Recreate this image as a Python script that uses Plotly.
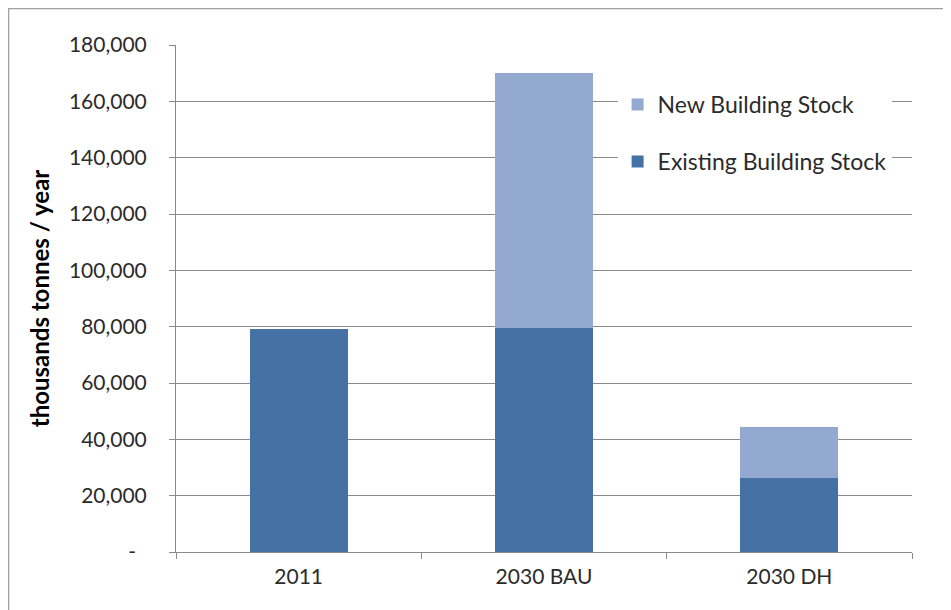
import plotly.graph_objects as go

categories = ["2011", "2030 BAU", "2030 DH"]
existing_stock = [79300, 79500, 26400]
new_stock = [0, 90400, 18000]
y_tick_values = [0, 20000, 40000, 60000, 80000, 100000, 120000, 140000, 160000, 180000]
y_tick_labels = ["-\u00a0\u00a0", "20,000", "40,000", "60,000", "80,000", "100,000", "120,000", "140,000", "160,000", "180,000"]

FONT = "Lato, 'Open Sans', sans-serif"
TEXT = "#2b2b2b"
GRID = "#8a8a8a"

# figure sits at (8, 8) in the page because of the default body margin
L, R, T, B = 168, 39, 37, 58
W, H = 943, 602
PW = W - L - R
PH = H - T - B

fig = go.Figure()
fig.add_trace(go.Bar(x=categories, y=existing_stock, name="Existing Building Stock",
                     marker=dict(color="#4571a5", line=dict(width=0)), width=0.4,
                     legendgroup="a", legendrank=2))
fig.add_trace(go.Bar(x=categories, y=new_stock, name="New Building Stock",
                     marker=dict(color="#94a9cf", line=dict(width=0)), width=0.4,
                     legendgroup="b", legendrank=1))

fig.update_layout(
    width=W, height=H,
    barmode="stack",
    paper_bgcolor="white", plot_bgcolor="white",
    margin=dict(l=L, r=R, t=T, b=B, pad=0),
    font=dict(family=FONT, size=20, color=TEXT),
    showlegend=True,
    legend=dict(x=0.6, xanchor="left", y=0.925, yanchor="top",
                bgcolor="white", borderwidth=0,
                traceorder="grouped", tracegroupgap=24,
                font=dict(family=FONT, size=23, color=TEXT)),
    xaxis=dict(type="category", tickson="boundaries", ticks="outside", ticklen=6,
               tickcolor=GRID, showline=True, linecolor=GRID, linewidth=1,
               showgrid=False, ticklabelstandoff=6,
               tickfont=dict(size=21, color=TEXT)),
    yaxis=dict(range=[0, 180000], tickvals=y_tick_values, ticktext=y_tick_labels,
               ticks="outside", ticklen=6, tickcolor=GRID, showline=True,
               linecolor=GRID, linewidth=1, showgrid=True, gridcolor=GRID,
               gridwidth=1, zeroline=False, ticklabelstandoff=18,
               tickfont=dict(size=21, color=TEXT),
               title=dict(text="<b>thousands tonnes / year</b>", standoff=12,
                          font=dict(size=24, color="#000000"))),
    shapes=[dict(type="rect", xref="paper", yref="paper",
                 x0=(0.5 - L) / PW, x1=(941 - L) / PW,
                 y0=(T + PH - 620) / PH, y1=(T + PH - 0.5) / PH,
                 line=dict(color="#a0a0a0", width=1.5), fillcolor="rgba(0,0,0,0)",
                 layer="below")],
)

fig.write_html("out.html")
